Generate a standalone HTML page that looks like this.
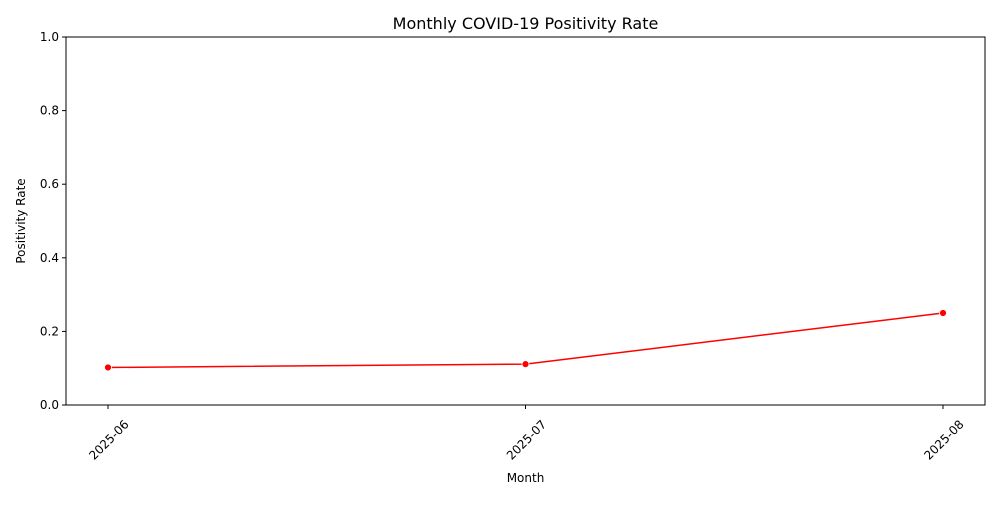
<!DOCTYPE html>
<html><head><meta charset="utf-8"><style>
body{margin:0;background:#fff;}
svg text{font-family:"DejaVu Sans","Liberation Sans",sans-serif;fill:#000;}
</style></head><body>
<svg id="chart" width="1000" height="500" xmlns="http://www.w3.org/2000/svg">
<rect x="0" y="0" width="1000" height="500" fill="#fff"/>
<text x="525.5" y="29" font-size="16" text-anchor="middle">Monthly COVID-19 Positivity Rate</text>
<g id="yaxis"></g>
<g id="xaxis"></g>
<g id="series"></g>
<rect x="66" y="37" width="919" height="368" fill="none" stroke="#000" stroke-width="1"/>
<text x="525.5" y="482" font-size="12" text-anchor="middle">Month</text>
<text x="0" y="0" font-size="12" text-anchor="middle" transform="translate(25,221) rotate(-90)">Positivity Rate</text>
</svg>
<script>
const months = ["2025-06","2025-07","2025-08"];
const rates = [0.102, 0.111, 0.25];
const yTicks = [0, 0.2, 0.4, 0.6, 0.8, 1.0];
const yTickLabels = ["0.0","0.2","0.4","0.6","0.8","1.0"];
const NS="http://www.w3.org/2000/svg";
const L=66,R=985,T=37,B=405;
const x0=108,x1=943;
function xs(i){return x0+(x1-x0)*i/(months.length-1);}
function ys(v){return B-(B-T)*v;}
function mk(tag,attrs,parent){const e=document.createElementNS(NS,tag);for(const k in attrs)e.setAttribute(k,attrs[k]);parent.appendChild(e);return e;}
const ya=document.getElementById('yaxis'),xa=document.getElementById('xaxis'),sg=document.getElementById('series');
yTicks.forEach((v,i)=>{
  const t=mk('line',{x1:L-4,x2:L,y1:ys(v),y2:ys(v),stroke:'#000'},ya);
  
  
  const tx=mk('text',{x:L-7,y:ys(v)+4,'font-size':12,'text-anchor':'end'},ya);
  tx.textContent=yTickLabels[i];
  
  
});
months.forEach((m,i)=>{
  const x=xs(i);
  const t=mk('line',{x1:x,x2:x,y1:B,y2:B+4,stroke:'#000'},xa);
  
  
  const tx=mk('text',{x:0,y:4,'font-size':12,'text-anchor':'middle',transform:`translate(${x+1},${B+35}) rotate(-45)`},xa);
  tx.textContent=m;
  
  
});
const pts=rates.map((v,i)=>xs(i)+','+ys(v)).join(' ');
const pl=mk('polyline',{points:pts,fill:'none',stroke:'#ff0000','stroke-width':1.5},sg);


rates.forEach((v,i)=>{
  const c=mk('circle',{cx:xs(i),cy:ys(v),r:3.5,fill:'#ff0000',stroke:'#fff','stroke-width':0.8},sg);
  
  
});
</script>
</body></html>
